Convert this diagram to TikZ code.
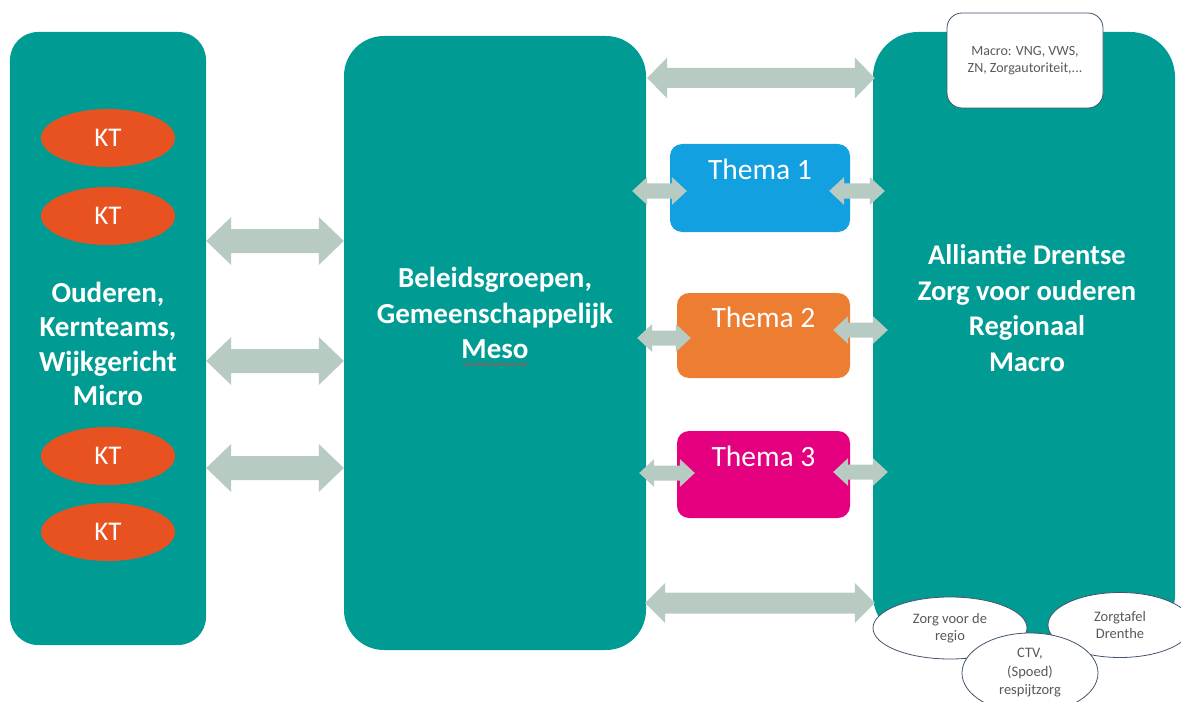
\documentclass[tikz,border=0pt]{standalone}
\usepackage{fontspec}
\setmainfont{Carlito}
\usetikzlibrary{shapes.geometric,calc,decorations.pathmorphing}
\definecolor{panelc}{HTML}{009C93}
\definecolor{arrowc}{HTML}{B8CBC3}
\definecolor{ktc}{HTML}{E85120}
\definecolor{thA}{HTML}{12A0E0}
\definecolor{thB}{HTML}{ED7D31}
\definecolor{thC}{HTML}{E4007F}
\definecolor{edgec}{HTML}{44546A}
\definecolor{smalltxt}{HTML}{595959}
\definecolor{spellc}{HTML}{D04040}
\newcommand\barrow[5]{%
  \fill[arrowc] let \p1=(#1), \p2=(#2) in
  (\x1,\y1) -- (\x1+#5,\y1+#4) -- (\x1+#5,\y1+#3) -- (\x2-#5,\y2+#3) -- (\x2-#5,\y2+#4)
  -- (\x2,\y2) -- (\x2-#5,\y2-#4) -- (\x2-#5,\y2-#3) -- (\x1+#5,\y1-#3) -- (\x1+#5,\y1-#4) -- cycle;}
\tikzset{
  panel/.style={rectangle, fill=panelc, draw=none, inner sep=0pt},
  title/.style={text=white, align=center, font=\fontsize{29bp}{34.5bp}\selectfont\bfseries},
  kt/.style={ellipse, fill=ktc, draw=none, inner sep=0pt, minimum width=134bp, minimum height=58bp,
    text=white, font=\fontsize{27bp}{30bp}\selectfont},
  thema/.style={rectangle, rounded corners=12bp, draw=none, inner sep=0pt, text=white,
    font=\fontsize{29.5bp}{32bp}\selectfont, text height=20bp, text depth=36bp},
  whitebox/.style={fill=white, draw=edgec, line width=0.8bp, inner sep=0pt, text=smalltxt, align=center,
    font=\fontsize{14bp}{17bp}\selectfont},
  oval/.style={whitebox, ellipse, font=\fontsize{14.5bp}{17bp}\selectfont},
  spellmark/.style={draw=spellc, line width=0.6bp, decorate, decoration={snake, amplitude=0.9bp, segment length=3bp}}
}
\begin{document}
\begin{tikzpicture}[x=1bp,y=-1bp]
\useasboundingbox (0,0) rectangle (1181,702);
\clip (0,0) rectangle (1181,702);
% panels
\node[panel, rounded corners=28bp, minimum width=196bp, minimum height=613bp] (L) at (108,338.5) {};
\node[panel, rounded corners=40bp, minimum width=302bp, minimum height=614bp] (M) at (495,343) {};
\node[panel, rounded corners=45bp, minimum width=302bp, minimum height=608bp] (R) at (1024,336) {};
% KT
\node[kt] (kt1) at (108,138) {KT};
\node[kt] (kt2) at (108,216) {KT};
\node[kt] (kt3) at (108,456) {KT};
\node[kt] (kt4) at (108,532) {KT};
% titles
\node[title] (Ltxt) at (108,344) {Ouderen,\\Kernteams,\\Wijkgericht\\Micro};
\node[title, font=\fontsize{29bp}{35.5bp}\selectfont\bfseries] (Mtxt) at (495,313) {Beleidsgroepen,\\Gemeenschappelijk\\Meso};
\draw[spellmark] ($(Mtxt.south)+(-32,2)$) -- ($(Mtxt.south)+(34,2)$);
\node[title, font=\fontsize{28.5bp}{35.5bp}\selectfont\bfseries] (Rtxt) at (1027,308) {Alliantie Drentse\\Zorg voor ouderen\\Regionaal\\Macro};
% thema boxes
\node[thema, fill=thA, minimum width=180bp, minimum height=88bp] (T1) at (760,188) {Thema 1};
\node[thema, fill=thB, minimum width=173bp, minimum height=85bp] (T2) at (763.5,335.5) {Thema 2};
\node[thema, fill=thC, minimum width=173bp, minimum height=87bp] (T3) at (763.5,474.5) {Thema 3};
% arrow levels
\coordinate (h1) at (0,241);
\coordinate (h2) at (0,361);
\coordinate (h3) at (0,468);
\coordinate (h4) at (0,78);
\coordinate (h5) at (0,603);
\coordinate (t1) at (0,191);
\coordinate (t2l) at (0,338);
\coordinate (t2r) at (0,330);
\coordinate (t3l) at (0,473);
\coordinate (t3r) at (0,472);
% big arrows
\barrow{L.east |- h1}{M.west |- h1}{12bp}{24bp}{25bp}
\barrow{L.east |- h2}{M.west |- h2}{12bp}{24bp}{25bp}
\barrow{L.east |- h3}{M.west |- h3}{12bp}{24bp}{25bp}
\barrow{$(M.east |- h4)+(1,0)$}{$(R.west |- h4)+(2,0)$}{10bp}{20.5bp}{20bp}
\barrow{$(M.east |- h5)+(-1,0)$}{$(R.west |- h5)+(2,0)$}{10.5bp}{20bp}{20bp}
% thema arrows
\barrow{$(M.east |- t1)+(-14,0)$}{$(T1.west |- t1)+(17,0)$}{7.5bp}{14bp}{15bp}
\barrow{$(T1.east |- t1)+(-21,0)$}{$(R.west |- t1)+(12,0)$}{7.5bp}{14bp}{15bp}
\barrow{$(M.east |- t2l)+(-9,0)$}{$(T2.west |- t2l)+(14,0)$}{7.5bp}{14bp}{15bp}
\barrow{$(T2.east |- t2r)+(-17,0)$}{$(R.west |- t2r)+(15,0)$}{7.5bp}{14bp}{15bp}
\barrow{$(M.east |- t3l)+(-7,0)$}{$(T3.west |- t3l)+(18,0)$}{7.5bp}{14bp}{15bp}
\barrow{$(T3.east |- t3r)+(-17,0)$}{$(R.west |- t3r)+(15,0)$}{7.5bp}{14bp}{15bp}
% macro box
\node[whitebox, rounded corners=15bp, minimum width=156bp, minimum height=95bp] (MB) at (1025,60.5)
  {Macro: VNG, VWS,\\ZN, Zorgautoriteit,...};
% bottom ellipses
\node[oval, minimum width=154bp, minimum height=62bp] (E1) at (950,628) {Zorg voor de\\regio};
\node[oval, minimum width=144bp, minimum height=65bp] (E2) at (1120,625) {Zorgtafel\\Drenthe};
\node[oval, minimum width=136bp, minimum height=80bp, font=\fontsize{14.5bp}{18.5bp}\selectfont] (E3) at (1030,673) {CTV,\\(Spoed)\\respijtzorg};
\end{tikzpicture}
\end{document}
